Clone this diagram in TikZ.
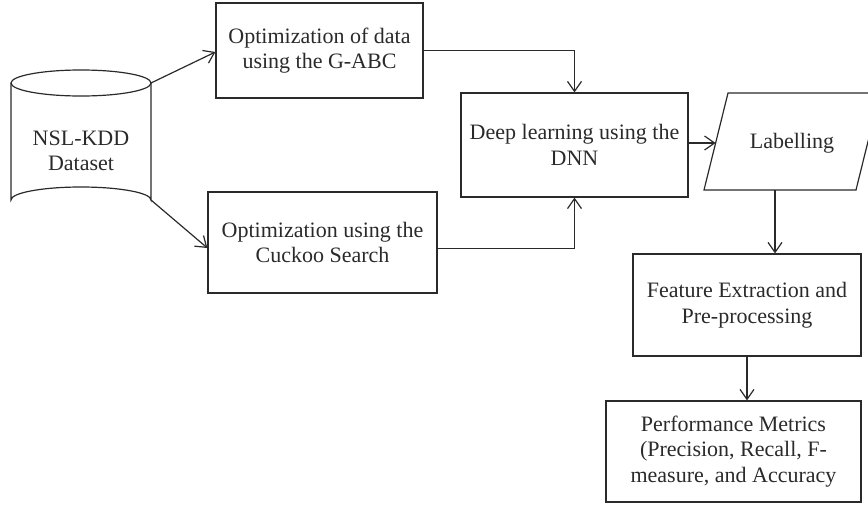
\documentclass[tikz,border=0pt]{standalone}
\usepackage{fontspec}
\setmainfont{Liberation Serif}
\usetikzlibrary{arrows.meta,calc}
\definecolor{ink}{HTML}{2A2A2A}
\begin{document}
\begin{tikzpicture}[x=1pt,y=-1pt,
  box/.style={draw=ink,line width=1.2pt,rectangle,inner sep=0pt,align=center,text=ink,font=\fontsize{22}{25.5}\selectfont},
  txt/.style={inner sep=0pt,align=center,text=ink,font=\fontsize{22}{25.5}\selectfont},
  conn/.style={draw=ink,line width=1.2pt,-{Straight Barb[length=10pt,width=14pt,line width=1.2pt]}},
  shp/.style={draw=ink,line width=1.2pt}]
\clip (0,0) rectangle (868,504);
% cylinder
\coordinate (dbtr) at (151,83);
\coordinate (dbbr) at (151,200);
\draw[shp] (81,83) ellipse [x radius=70,y radius=13];
\draw[shp] (11,83) -- (11,200) arc[start angle=180,end angle=360,x radius=70,y radius=13] -- (151,83);
\node[txt] (db) at (81,151) {NSL-KDD\\Dataset};
% boxes
\node[box,minimum width=207pt,minimum height=95pt] (g) at (319.5,50.5) {Optimization of data\\using the G-ABC};
\node[box,minimum width=229pt,minimum height=101pt] (cs) at (322.5,242.5) {Optimization using the\\Cuckoo Search};
\node[box,minimum width=227pt,minimum height=104pt] (dnn) at (574.5,145) {Deep learning using the\\DNN};
\node[box,minimum width=228pt,minimum height=102pt] (fe) at (747,305) {Feature Extraction and\\Pre-processing};
\node[box,minimum width=255pt,minimum height=101pt] (pm) at (733.5,451.5) {Performance Metrics\\(Precision, Recall, F-\\measure, and Accuracy};
% parallelogram
\coordinate (pbl) at (704,190);
\coordinate (ptl) at (728,93);
\coordinate (ptr) at (880,93);
\coordinate (pbr) at (856,190);
\draw[shp] (pbl) -- (ptl) -- (ptr) -- (pbr) -- cycle;
\node[txt] (lab) at (792,143) {Labelling};
\coordinate (labin) at (715.6,143);
\coordinate (labout) at (775,190);
% connectors
\draw[conn] (dbtr) -- ($(g.west)+(0,1.5)$);
\draw[conn] (dbbr) -- ($(cs.west)+(0,5.5)$);
\draw[conn] (g.east) -| (dnn.north);
\draw[conn] ($(cs.east)+(0,6)$) -| (dnn.south);
\draw[conn] (dnn.east |- labin) -- (labin);
\draw[conn] (labout) -- (labout |- fe.north);
\draw[conn] (fe.south) -- (fe.south |- pm.north);
\end{tikzpicture}
\end{document}
